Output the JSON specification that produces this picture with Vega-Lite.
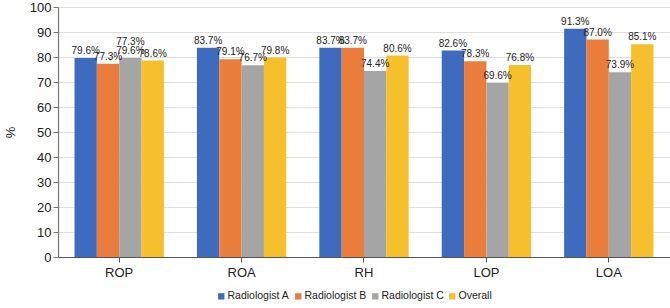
{
  "$schema": "https://vega.github.io/schema/vega-lite/v6.json",
  "width": 612,
  "height": 250,
  "autosize": {"type": "none"},
  "padding": {"left": 58, "top": 7, "right": 0, "bottom": 51},
  "background": "white",
  "config": {
    "view": {"stroke": null},
    "font": "Liberation Sans",
    "axis": {"labelFont": "Liberation Sans", "titleFont": "Liberation Sans"}
  },
  "datasets": {
    "main": [
      {"category": "ROP", "series": "Radiologist A", "value": 79.6, "label": "79.6%"},
      {"category": "ROP", "series": "Radiologist B", "value": 77.3, "label": "77.3%"},
      {"category": "ROP", "series": "Radiologist C", "value": 79.6, "label": "79.6%"},
      {"category": "ROP", "series": "Overall", "value": 78.6, "label": "78.6%"},
      {"category": "ROA", "series": "Radiologist A", "value": 83.7, "label": "83.7%"},
      {"category": "ROA", "series": "Radiologist B", "value": 79.1, "label": "79.1%"},
      {"category": "ROA", "series": "Radiologist C", "value": 76.7, "label": "76.7%"},
      {"category": "ROA", "series": "Overall", "value": 79.8, "label": "79.8%"},
      {"category": "RH", "series": "Radiologist A", "value": 83.7, "label": "83.7%"},
      {"category": "RH", "series": "Radiologist B", "value": 83.7, "label": "83.7%"},
      {"category": "RH", "series": "Radiologist C", "value": 74.4, "label": "74.4%"},
      {"category": "RH", "series": "Overall", "value": 80.6, "label": "80.6%"},
      {"category": "LOP", "series": "Radiologist A", "value": 82.6, "label": "82.6%"},
      {"category": "LOP", "series": "Radiologist B", "value": 78.3, "label": "78.3%"},
      {"category": "LOP", "series": "Radiologist C", "value": 69.6, "label": "69.6%"},
      {"category": "LOP", "series": "Overall", "value": 76.8, "label": "76.8%"},
      {"category": "LOA", "series": "Radiologist A", "value": 91.3, "label": "91.3%"},
      {"category": "LOA", "series": "Radiologist B", "value": 87.0, "label": "87.0%"},
      {"category": "LOA", "series": "Radiologist C", "value": 73.9, "label": "73.9%"},
      {"category": "LOA", "series": "Overall", "value": 85.1, "label": "85.1%"}
    ],
    "extra": [
      {"category": "ROP", "series": "Radiologist C", "value": 83.2, "label": "77.3%"}
    ]
  },
  "encoding": {
    "x": {
      "field": "category", "type": "nominal",
      "sort": ["ROP", "ROA", "RH", "LOP", "LOA"],
      "scale": {"paddingInner": 0.27, "paddingOuter": 0.135},
      "axis": {
        "title": null, "labelAngle": 0, "labelFontSize": 13, "labelColor": "#222222",
        "domainColor": "#555555", "domainWidth": 1.2, "tickColor": "#555555",
        "tickSize": 5, "labelPadding": 4, "grid": false
      }
    },
    "xOffset": {
      "field": "series", "type": "nominal",
      "sort": ["Radiologist A", "Radiologist B", "Radiologist C", "Overall"],
      "scale": {"paddingInner": 0, "paddingOuter": 0}
    },
    "y": {
      "field": "value", "type": "quantitative",
      "scale": {"domain": [0, 100], "nice": false},
      "axis": {
        "title": "%", "titleAngle": -90, "titleFontSize": 13, "titleFontWeight": "normal",
        "titleColor": "#222222", "titlePadding": 12,
        "values": [0, 10, 20, 30, 40, 50, 60, 70, 80, 90, 100],
        "labelFontSize": 13, "labelColor": "#222222", "labelPadding": 2,
        "domainColor": "#777777", "domainWidth": 1.2, "tickColor": "#777777", "tickSize": 5,
        "gridColor": "#dedede", "gridWidth": 1
      }
    }
  },
  "layer": [
    {
      "data": {"name": "main"},
      "mark": {"type": "bar"},
      "encoding": {
        "color": {
          "field": "series", "type": "nominal",
          "sort": ["Radiologist A", "Radiologist B", "Radiologist C", "Overall"],
          "scale": {
            "domain": ["Radiologist A", "Radiologist B", "Radiologist C", "Overall"],
            "range": ["#3F6BBE", "#EA7D3C", "#A5A5A5", "#F6BF2C"]
          },
          "legend": {
            "title": null, "orient": "none", "legendX": 158, "legendY": 284,
            "direction": "horizontal",
            "symbolType": "square", "symbolSize": 40, "symbolStrokeWidth": 0,
            "labelFontSize": 10.5, "labelColor": "#222222", "labelOffset": 1,
            "columnPadding": 3
          }
        }
      }
    },
    {
      "data": {"name": "main"},
      "mark": {"type": "text", "baseline": "bottom", "dy": -2, "fontSize": 10, "color": "#222222"},
      "encoding": {"text": {"field": "label"}}
    },
    {
      "data": {"name": "extra"},
      "mark": {"type": "text", "baseline": "bottom", "dy": -2, "fontSize": 10, "color": "#222222"},
      "encoding": {"text": {"field": "label"}}
    }
  ]
}
